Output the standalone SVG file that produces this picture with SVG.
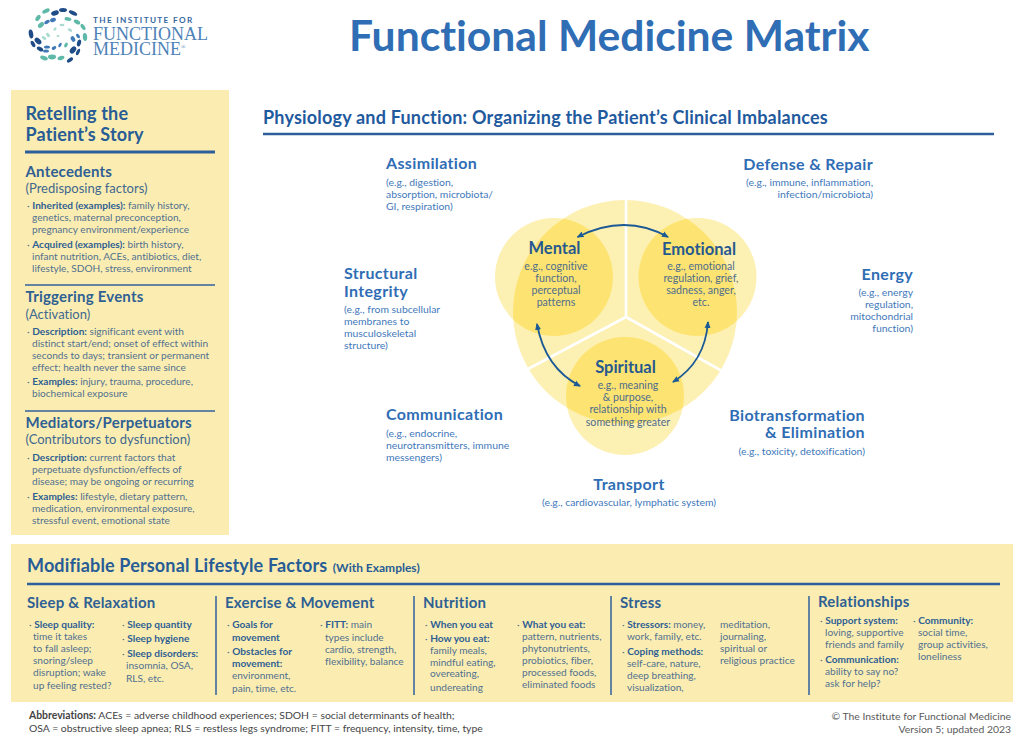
<svg xmlns="http://www.w3.org/2000/svg" width="1024" height="741" viewBox="0 0 1024 741">
<defs>
<style>
text{font-family:"Lato","Liberation Sans",sans-serif;font-variant-ligatures:none}
.panel{fill:#fbedb2}
.rule{stroke:#2f5f9b;fill:none}
.title{font-size:42.6px;font-weight:700;fill:#2f6db5}
.sub{font-size:18px;font-weight:700;fill:#1f5a9e;letter-spacing:.2px}
.h1{font-size:18px;font-weight:700;fill:#275c96;letter-spacing:.15px}
.h2{font-size:15px;font-weight:700;fill:#2f6093;letter-spacing:.2px}
.par{font-size:13px;fill:#41688f}
.b{font-size:10.1px;fill:#51708f}
.bb{font-weight:700;fill:#2f5f92}
.lab{font-size:16px;font-weight:700;fill:#2f6db5;letter-spacing:.35px}
.note{font-size:10.4px;fill:#4279bb}
.dh{font-size:16.5px;font-weight:700;fill:#27598f;text-anchor:middle}
.dt{font-size:10.6px;fill:#4f6c8c;text-anchor:middle}
.foot{font-size:10.4px;fill:#444}
.cr{font-size:10.4px;fill:#5a5a5a}
.c1{fill:#fdf0b3}
.c2{fill:#fde472}
.arr{fill:none;stroke:#1c5a96;stroke-width:1.8;marker-start:url(#a0);marker-end:url(#a1)}
.t{fill:#5fb9a8}.d{fill:#1f4c87}.m{fill:#3f79b8}.l{fill:#a9dbd0}
</style>
<marker id="a1" markerWidth="7" markerHeight="7" refX="6" refY="3" orient="auto" markerUnits="userSpaceOnUse" viewBox="0 0 7 6"><path d="M0 0L7 3L0 6Z" fill="#1c5a96"/></marker>
<marker id="a0" markerWidth="7" markerHeight="7" refX="1" refY="3" orient="auto" markerUnits="userSpaceOnUse" viewBox="0 0 7 6"><path d="M7 0L0 3L7 6Z" fill="#1c5a96"/></marker>
<clipPath id="big"><circle cx="625" cy="312" r="112"/></clipPath>
</defs>
<rect width="1024" height="741" fill="#fff"/>

<g id="logo">
<ellipse class="d" cx="55" cy="13" rx="4" ry="2.4" transform="rotate(-20 55 13)"/>
<ellipse class="d" cx="63" cy="10" rx="4" ry="2" />
<ellipse class="d" cx="73" cy="13" rx="4.5" ry="2" transform="rotate(25 73 13)"/>
<ellipse class="t" cx="46" cy="11" rx="4" ry="2" transform="rotate(-25 46 11)"/>
<ellipse class="t" cx="38" cy="18" rx="3.5" ry="2" transform="rotate(-55 38 18)"/>
<ellipse class="t" cx="41" cy="25" rx="3.5" ry="2.2" transform="rotate(-40 41 25)"/>
<ellipse class="m" cx="47" cy="22" rx="3" ry="1.8" transform="rotate(-30 47 22)"/>
<ellipse class="m" cx="53" cy="20" rx="3" ry="2" transform="rotate(-20 53 20)"/>
<ellipse class="t" cx="68" cy="19" rx="3.5" ry="1.8" transform="rotate(10 68 19)"/>
<ellipse class="t" cx="77" cy="22" rx="3.5" ry="2" transform="rotate(30 77 22)"/>
<ellipse class="t" cx="83" cy="27" rx="3.5" ry="1.8" transform="rotate(55 83 27)"/>
<ellipse class="t" cx="85" cy="37" rx="4" ry="2.2" transform="rotate(85 85 37)"/>
<ellipse class="d" cx="31" cy="34" rx="4.5" ry="2.2" transform="rotate(80 31 34)"/>
<ellipse class="d" cx="33" cy="44" rx="3.5" ry="1.8" transform="rotate(60 33 44)"/>
<ellipse class="d" cx="38" cy="41" rx="4" ry="2.6" transform="rotate(45 38 41)"/>
<ellipse class="d" cx="40" cy="49" rx="3.5" ry="2" transform="rotate(30 40 49)"/>
<ellipse class="m" cx="47" cy="47" rx="3" ry="1.6" />
<ellipse class="m" cx="46" cy="51" rx="3" ry="1.6" />
<ellipse class="m" cx="54" cy="48" rx="2.5" ry="1.6" transform="rotate(-30 54 48)"/>
<ellipse class="t" cx="44" cy="58" rx="4" ry="2" transform="rotate(20 44 58)"/>
<ellipse class="t" cx="52" cy="57" rx="4" ry="2.4" />
<ellipse class="t" cx="61" cy="58" rx="3.5" ry="2" transform="rotate(-20 61 58)"/>
<ellipse class="d" cx="70" cy="60" rx="3.5" ry="1.8" transform="rotate(-35 70 60)"/>
<ellipse class="d" cx="73" cy="50" rx="4" ry="2.6" transform="rotate(-50 73 50)"/>
<ellipse class="d" cx="79" cy="43" rx="3.5" ry="2" transform="rotate(-75 79 43)"/>
<ellipse class="d" cx="78" cy="52" rx="3.5" ry="1.6" transform="rotate(-65 78 52)"/>
<ellipse class="m" cx="73" cy="39" rx="3" ry="2" transform="rotate(60 73 39)"/>
<ellipse class="m" cx="78" cy="36" rx="2.5" ry="1.5" transform="rotate(50 78 36)"/>
<ellipse class="t" cx="66" cy="45" rx="2.5" ry="1.6" transform="rotate(-60 66 45)"/>
<ellipse class="m" cx="60" cy="45" rx="2.5" ry="1.3" transform="rotate(-60 60 45)"/>
<ellipse class="l" cx="48" cy="35" rx="2.5" ry="1.5" transform="rotate(50 48 35)"/>
<ellipse class="l" cx="44" cy="38" rx="2.5" ry="1.5" transform="rotate(30 44 38)"/>
<ellipse class="l" cx="55" cy="29" rx="2" ry="1.2" transform="rotate(-50 55 29)"/>
<ellipse class="l" cx="62" cy="25" rx="2.5" ry="1.3"/>
<ellipse class="l" cx="70" cy="30" rx="2.5" ry="1.4" transform="rotate(30 70 30)"/>
<ellipse class="l" cx="58" cy="36" rx="1.5" ry="1"/>
<text x="93" y="23" font-size="8.2" font-weight="700" letter-spacing="1.35" fill="#35689f">THE INSTITUTE FOR</text>
<text x="93" y="39.5" font-size="18" style="font-family:'Liberation Serif',serif" fill="#4d82b8">FUNCTIONAL</text>
<text x="93" y="54.5" font-size="18" style="font-family:'Liberation Serif',serif" fill="#4d82b8">MEDICINE<tspan font-size="6" dy="-6">®</tspan></text>
</g>

<text id="title" class="title" x="349" y="51">Functional Medicine Matrix</text>

<g id="story-panel">
<rect class="panel" x="11" y="90" width="218" height="445"/>
<text class="h1" x="25.5" y="120">Retelling the</text>
<text class="h1" x="25.5" y="140.5">Patient’s Story</text>
<line class="rule" x1="25" y1="152" x2="215" y2="152" stroke-width="3"/>
<text class="h2" x="25.5" y="177">Antecedents</text>
<text class="par" x="25.5" y="193">(Predisposing factors)</text>
<text class="b" x="27" y="209">· <tspan class="bb">Inherited (examples):</tspan> family history,</text>
<text class="b" x="32" y="221">genetics, maternal preconception,</text>
<text class="b" x="32" y="233">pregnancy environment/experience</text>
<text class="b" x="27" y="248">· <tspan class="bb">Acquired (examples):</tspan> birth history,</text>
<text class="b" x="32" y="260">infant nutrition, ACEs, antibiotics, diet,</text>
<text class="b" x="32" y="272">lifestyle, SDOH, stress, environment</text>
<line class="rule" x1="25" y1="285" x2="215" y2="285" stroke-width="1.5"/>
<text class="h2" x="25.5" y="302">Triggering Events</text>
<text class="par" x="25.5" y="319">(Activation)</text>
<text class="b" x="27" y="335">· <tspan class="bb">Description:</tspan> significant event with</text>
<text class="b" x="32" y="347">distinct start/end; onset of effect within</text>
<text class="b" x="32" y="359">seconds to days; transient or permanent</text>
<text class="b" x="32" y="371">effect; health never the same since</text>
<text class="b" x="27" y="385">· <tspan class="bb">Examples:</tspan> injury, trauma, procedure,</text>
<text class="b" x="32" y="397">biochemical exposure</text>
<line class="rule" x1="25" y1="411" x2="215" y2="411" stroke-width="1.5"/>
<text class="h2" x="25.5" y="428">Mediators/Perpetuators</text>
<text class="par" x="25.5" y="444">(Contributors to dysfunction)</text>
<text class="b" x="27" y="461">· <tspan class="bb">Description:</tspan> current factors that</text>
<text class="b" x="32" y="473">perpetuate dysfunction/effects of</text>
<text class="b" x="32" y="485">disease; may be ongoing or recurring</text>
<text class="b" x="27" y="500">· <tspan class="bb">Examples:</tspan> lifestyle, dietary pattern,</text>
<text class="b" x="32" y="512">medication, environmental exposure,</text>
<text class="b" x="32" y="524">stressful event, emotional state</text>
</g>

<g id="physiology-header">
<text class="sub" x="263" y="123.5">Physiology and Function: Organizing the Patient’s Clinical Imbalances</text>
<line class="rule" x1="263" y1="134" x2="994" y2="134" stroke-width="2.5"/>
</g>

<g id="assimilation">
<text class="lab" x="386" y="169">Assimilation</text>
<text class="note" x="386" y="185.5">(e.g., digestion,</text>
<text class="note" x="386" y="197.5">absorption, microbiota/</text>
<text class="note" x="386" y="209.5">GI, respiration)</text>
</g>
<g id="defense" text-anchor="end">
<text class="lab" x="873" y="170">Defense &amp; Repair</text>
<text class="note" x="873" y="186">(e.g., immune, inflammation,</text>
<text class="note" x="873" y="198">infection/microbiota)</text>
</g>
<g id="structural">
<text class="lab" x="344" y="279">Structural</text>
<text class="lab" x="344" y="296.5">Integrity</text>
<text class="note" x="344" y="313">(e.g., from subcellular</text>
<text class="note" x="344" y="325">membranes to</text>
<text class="note" x="344" y="337">musculoskeletal</text>
<text class="note" x="344" y="349">structure)</text>
</g>
<g id="energy" text-anchor="end">
<text class="lab" x="913" y="280">Energy</text>
<text class="note" x="913" y="296">(e.g., energy</text>
<text class="note" x="913" y="308">regulation,</text>
<text class="note" x="913" y="320">mitochondrial</text>
<text class="note" x="913" y="332">function)</text>
</g>
<g id="communication">
<text class="lab" x="386" y="420">Communication</text>
<text class="note" x="386" y="437">(e.g., endocrine,</text>
<text class="note" x="386" y="449">neurotransmitters, immune</text>
<text class="note" x="386" y="461">messengers)</text>
</g>
<g id="biotransformation" text-anchor="end">
<text class="lab" x="865" y="421">Biotransformation</text>
<text class="lab" x="865" y="438">&amp; Elimination</text>
<text class="note" x="865" y="455">(e.g., toxicity, detoxification)</text>
</g>
<g id="transport" text-anchor="middle">
<text class="lab" x="629" y="490">Transport</text>
<text class="note" x="629" y="506">(e.g., cardiovascular, lymphatic system)</text>
</g>

<g id="venn">
<circle class="c1" cx="625" cy="312" r="112"/>
<circle class="c1" cx="554" cy="277" r="59"/>
<circle class="c1" cx="697.5" cy="277" r="59"/>
<circle class="c1" cx="625" cy="396" r="59"/>
<g clip-path="url(#big)">
<circle class="c2" cx="554" cy="277" r="59"/>
<circle class="c2" cx="697.5" cy="277" r="59"/>
<circle class="c2" cx="625" cy="396" r="59"/>
</g>
<path d="M626 195V317M626 317L528 369M626 317L722 371" stroke="#fff" stroke-width="2.6" fill="none"/>
</g>

<g id="mental">
<text class="dh" x="554.5" y="253.5">Mental</text>
<text class="dt" x="556" y="270">e.g., cognitive</text>
<text class="dt" x="556" y="282">function,</text>
<text class="dt" x="556" y="294">perceptual</text>
<text class="dt" x="556" y="306">patterns</text>
</g>
<g id="emotional">
<text class="dh" x="699" y="254.5">Emotional</text>
<text class="dt" x="701" y="270">e.g., emotional</text>
<text class="dt" x="701" y="282">regulation, grief,</text>
<text class="dt" x="701" y="294">sadness, anger,</text>
<text class="dt" x="701" y="306">etc.</text>
</g>
<g id="spiritual">
<text class="dh" x="625.5" y="373">Spiritual</text>
<text class="dt" x="628" y="389">e.g., meaning</text>
<text class="dt" x="628" y="401">&amp; purpose,</text>
<text class="dt" x="628" y="413">relationship with</text>
<text class="dt" x="628" y="426">something greater</text>
</g>

<g id="connectors">
<path class="arr" d="M577.5 237Q625 213 668 237"/>
<path class="arr" d="M537 324Q545 368 580 386"/>
<path class="arr" d="M708 322Q705 362 673 382"/>
</g>

<g id="lifestyle-panel">
<rect class="panel" x="11" y="544" width="1002" height="158"/>
<text class="h1" x="27" y="572">Modifiable Personal Lifestyle Factors<tspan font-size="12" dx="5.5" letter-spacing="0">(With Examples)</tspan></text>
<line class="rule" x1="27" y1="584" x2="1000" y2="584" stroke-width="2.5"/>
<g class="rule" stroke-width="1.5">
<line x1="216" y1="596" x2="216" y2="695"/>
<line x1="414" y1="596" x2="414" y2="695"/>
<line x1="611" y1="596" x2="611" y2="695"/>
<line x1="809" y1="596" x2="809" y2="695"/>
</g>
</g>

<g id="sleep">
<text class="h2" x="27" y="608">Sleep &amp; Relaxation</text>
<text class="b" x="29" y="628">· <tspan class="bb">Sleep quality:</tspan></text>
<text class="b" x="33" y="640">time it takes</text>
<text class="b" x="33" y="652">to fall asleep;</text>
<text class="b" x="33" y="664">snoring/sleep</text>
<text class="b" x="33" y="676">disruption; wake</text>
<text class="b" x="33" y="689">up feeling rested?</text>
<text class="b" x="122" y="628">· <tspan class="bb">Sleep quantity</tspan></text>
<text class="b" x="122" y="642">· <tspan class="bb">Sleep hygiene</tspan></text>
<text class="b" x="122" y="657">· <tspan class="bb">Sleep disorders:</tspan></text>
<text class="b" x="126" y="669">insomnia, OSA,</text>
<text class="b" x="126" y="682">RLS, etc.</text>
</g>
<g id="exercise">
<text class="h2" x="225" y="608">Exercise &amp; Movement</text>
<text class="b" x="227" y="628">· <tspan class="bb">Goals for</tspan></text>
<text class="b bb" x="232" y="641">movement</text>
<text class="b" x="227" y="655">· <tspan class="bb">Obstacles for</tspan></text>
<text class="b bb" x="232" y="667">movement:</text>
<text class="b" x="232" y="679">environment,</text>
<text class="b" x="232" y="692">pain, time, etc.</text>
<text class="b" x="320" y="628">· <tspan class="bb">FITT:</tspan> main</text>
<text class="b" x="325" y="641">types include</text>
<text class="b" x="325" y="653">cardio, strength,</text>
<text class="b" x="325" y="665">flexibility, balance</text>
</g>
<g id="nutrition">
<text class="h2" x="423" y="608">Nutrition</text>
<text class="b" x="425" y="628">· <tspan class="bb">When you eat</tspan></text>
<text class="b" x="425" y="642">· <tspan class="bb">How you eat:</tspan></text>
<text class="b" x="430" y="654">family meals,</text>
<text class="b" x="430" y="666">mindful eating,</text>
<text class="b" x="430" y="677">overeating,</text>
<text class="b" x="430" y="691">undereating</text>
<text class="b" x="517" y="628">· <tspan class="bb">What you eat:</tspan></text>
<text class="b" x="522" y="640">pattern, nutrients,</text>
<text class="b" x="522" y="652">phytonutrients,</text>
<text class="b" x="522" y="664">probiotics, fiber,</text>
<text class="b" x="522" y="676">processed foods,</text>
<text class="b" x="522" y="688">eliminated foods</text>
</g>
<g id="stress">
<text class="h2" x="620" y="608">Stress</text>
<text class="b" x="622" y="628">· <tspan class="bb">Stressors:</tspan> money,</text>
<text class="b" x="627" y="640">work, family, etc.</text>
<text class="b" x="622" y="655">· <tspan class="bb">Coping methods:</tspan></text>
<text class="b" x="627" y="667">self-care, nature,</text>
<text class="b" x="627" y="679">deep breathing,</text>
<text class="b" x="627" y="691">visualization,</text>
<text class="b" x="720" y="628">meditation,</text>
<text class="b" x="720" y="640">journaling,</text>
<text class="b" x="720" y="652">spiritual or</text>
<text class="b" x="720" y="664">religious practice</text>
</g>
<g id="relationships">
<text class="h2" x="818" y="607">Relationships</text>
<text class="b" x="820" y="624">· <tspan class="bb">Support system:</tspan></text>
<text class="b" x="825" y="636">loving, supportive</text>
<text class="b" x="825" y="648">friends and family</text>
<text class="b" x="820" y="663">· <tspan class="bb">Communication:</tspan></text>
<text class="b" x="825" y="675">ability to say no?</text>
<text class="b" x="825" y="687">ask for help?</text>
<text class="b" x="913" y="624">· <tspan class="bb">Community:</tspan></text>
<text class="b" x="918" y="636">social time,</text>
<text class="b" x="918" y="648">group activities,</text>
<text class="b" x="918" y="660">loneliness</text>
</g>

<g id="footer">
<text class="foot" x="29" y="719"><tspan font-weight="700">Abbreviations:</tspan> ACEs = adverse childhood experiences; SDOH = social determinants of health;</text>
<text class="foot" x="29" y="732">OSA = obstructive sleep apnea; RLS = restless legs syndrome; FITT = frequency, intensity, time, type</text>
<text class="cr" x="1011" y="720" text-anchor="end">© The Institute for Functional Medicine</text>
<text class="cr" x="1011" y="733" text-anchor="end">Version 5; updated 2023</text>
</g>
</svg>
